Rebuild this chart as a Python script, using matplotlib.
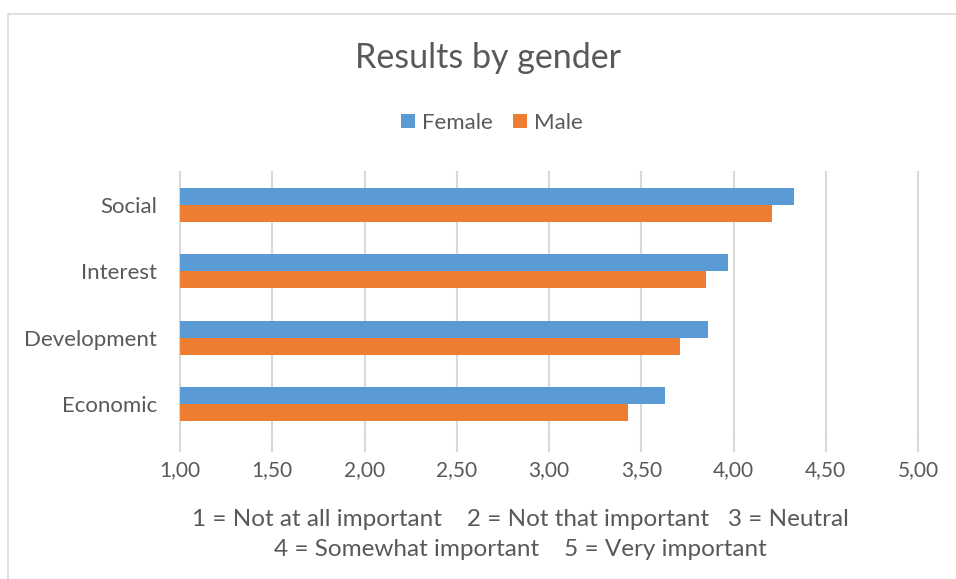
import matplotlib.pyplot as plt
import numpy as np
from matplotlib.patches import Rectangle

# data
categories = ["Economic", "Development", "Interest", "Social"]
female = [3.63, 3.86, 3.97, 4.33]
male = [3.43, 3.71, 3.85, 4.21]
xticks = [1.0, 1.5, 2.0, 2.5, 3.0, 3.5, 4.0, 4.5, 5.0]
note_lines = ["1 = Not at all important    2 = Not that important   3 = Neutral",
              "4 = Somewhat important    5 = Very important"]

plt.rcParams['font.family'] = ['Lato', 'DejaVu Sans']
text_color = "#595959"
blue = "#5B9BD5"
orange = "#ED7D31"
grid_color = "#D9D9D9"

fig = plt.figure(figsize=(9.56, 5.79), dpi=100)
W, H = 956, 579

# chart border (runs off the right/bottom edge like the screenshot)
fig.patches.append(Rectangle((8 / W, -0.1), 1.2, 1 - 14 / H + 0.1, transform=fig.transFigure,
                             fill=False, edgecolor="#D9D9D9", linewidth=1.2))

ax = fig.add_axes([180 / W, 1 - 437 / H, 738 / W, 265 / H])
y = np.arange(len(categories))
h = 0.256
ax.barh(y + h / 2, [v - 1 for v in female], left=1, height=h, color=blue, label="Female", zorder=3)
ax.barh(y - h / 2, [v - 1 for v in male], left=1, height=h, color=orange, label="Male", zorder=3)

ax.set_xlim(1, 5)
ax.set_ylim(-0.5, len(categories) - 0.5)
ax.set_xticks(xticks)
ax.set_xticklabels([f"{t:.2f}".replace(".", ",") for t in xticks])
ax.set_yticks(y)
ax.set_yticklabels(categories)
# vertical gridlines, unclipped so the one at 5,00 shows in full
for t in xticks[1:]:
    ax.axvline(t, color=grid_color, linewidth=1.5, zorder=0, clip_on=False)
for s in ["top", "right", "bottom"]:
    ax.spines[s].set_visible(False)
ax.spines["left"].set_color(grid_color)
ax.spines["left"].set_linewidth(1.5)
ax.tick_params(axis="x", length=11, width=1.5, color=grid_color, labelcolor=text_color,
               labelsize=15, pad=5.5)
ax.tick_params(axis="y", length=0, labelcolor=text_color, labelsize=16, pad=16.5)

fig.text(488 / W, 1 - 58 / H, "Results by gender", ha="center", va="center",
         fontsize=24.5, color=text_color)

# legend above the plot
handles, labels = ax.get_legend_handles_labels()
fig.legend(handles, labels, loc="center", bbox_to_anchor=(492 / W, 1 - 123 / H), ncol=2,
           frameon=False, fontsize=16, labelcolor=text_color, handlelength=0.62,
           handleheight=0.62, handletextpad=0.32, columnspacing=0.9)

fig.text(520 / W, 1 - 520 / H, note_lines[0], ha="center", va="center", fontsize=17.5,
         color=text_color)
fig.text(520 / W, 1 - 549 / H, note_lines[1], ha="center", va="center", fontsize=17.5,
         color=text_color)

fig.savefig("out.png", dpi=100)
